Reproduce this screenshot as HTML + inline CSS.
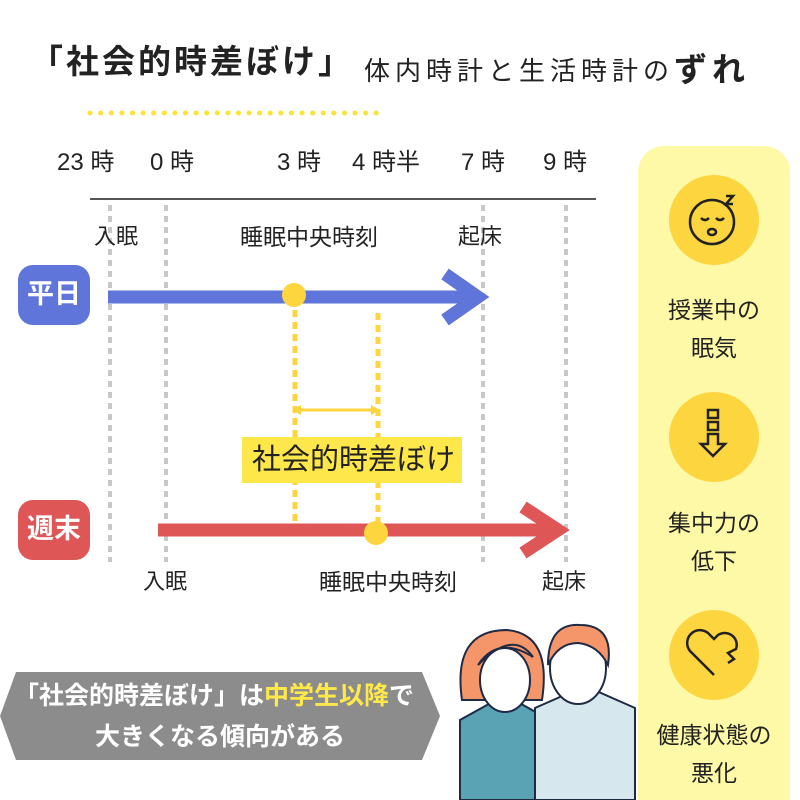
<!DOCTYPE html>
<html><head><meta charset="utf-8"><style>
body{margin:0;width:800px;height:800px;background:#fff;position:relative;overflow:hidden;font-family:"Liberation Sans","Noto Sans CJK JP",sans-serif;color:#222}
.t{position:absolute;white-space:nowrap;line-height:1}
</style></head><body>
<svg width="800" height="800" style="position:absolute;left:0;top:0">
<rect x="638" y="146" width="152" height="680" rx="26" fill="#fdf9a6"/>
<line x1="90" y1="113" x2="380" y2="113" stroke="#fde23a" stroke-width="5" stroke-dasharray="0.1 10.5" stroke-linecap="round"/>
<line x1="90" y1="199" x2="596" y2="199" stroke="#555" stroke-width="2"/>
<g stroke="#c8c8c8" stroke-width="4" stroke-dasharray="6 5">
<line x1="110" y1="205" x2="110" y2="562"/><line x1="166" y1="205" x2="166" y2="562"/>
<line x1="483" y1="205" x2="483" y2="562"/><line x1="566" y1="205" x2="566" y2="562"/></g>
<rect x="18" y="265" width="72" height="60" rx="15" fill="#5f75d9"/>
<rect x="18" y="500" width="72" height="60" rx="15" fill="#df5656"/>
<g stroke="#fdd53f" stroke-width="5" stroke-dasharray="7 5">
<line x1="295" y1="310" x2="295" y2="522"/><line x1="378" y1="313" x2="378" y2="530"/></g>
<line x1="298" y1="410" x2="374" y2="410" stroke="#fdd53f" stroke-width="3"/>
<path d="M292 410 l9 -5 v10z M380 410 l-9 -5 v10z" fill="#fdd53f"/>
<rect x="242" y="437" width="220" height="46" fill="#fde74a"/>
<line x1="108" y1="297" x2="474" y2="297" stroke="#5f75d9" stroke-width="13"/>
<polyline points="445,274 478,297 445,320" fill="none" stroke="#5f75d9" stroke-width="13"/>
<line x1="158" y1="530" x2="556" y2="530" stroke="#df5656" stroke-width="13"/>
<polyline points="523,507 558,530 523,553" fill="none" stroke="#df5656" stroke-width="13"/>
<circle cx="294" cy="295" r="12" fill="#fdd53f"/><circle cx="376" cy="533" r="12" fill="#fdd53f"/>
<circle cx="714" cy="220" r="45" fill="#fdd53f"/><circle cx="714" cy="437" r="45" fill="#fdd53f"/><circle cx="714" cy="655" r="45" fill="#fdd53f"/>
<g fill="none" stroke="#222" stroke-width="2.5">
<circle cx="712" cy="222" r="22"/><path d="M701 218q4 4 8 0M716 218q4 4 8 0"/><ellipse cx="712" cy="232" rx="4" ry="3"/><path d="M726 196h7l-7 8h7"/>
<path d="M708 410h10v8h-10zM708 422h10v8h-10zM708 434h10v10h7l-12 12l-12-12h7z"/>
<path d="M714 675l-24-24a12 12 0 0 1 20-16l4 4l4-4a12 12 0 0 1 18 14l-8 4l6 6l-6 4"/></g>
<polygon points="0,716 16,672 422,672 440,716 422,760 16,760" fill="#8c8c8c"/>
<g stroke="#1f2a44" stroke-width="2">
<path d="M460 800v-80l45-25 45 25v80z" fill="#5aa3b5"/>
<path d="M535 800v-92l50-22 50 22v92z" fill="#d6e8ee"/>
<path d="M462 700q-10-70 45-70q45 4 35 70z" fill="#f5956a"/>
<ellipse cx="505" cy="680" rx="25" ry="32" fill="#fff"/>
<path d="M478 665q20-30 55-8q-20-28-55 8z" fill="#f5956a"/>
<ellipse cx="578" cy="668" rx="28" ry="36" fill="#fff"/>
<path d="M548 665q0-42 32-40q34 0 28 40q-10-20-30-22q-20 0-30 22z" fill="#f5956a"/>
</g>
</svg>
<div class="t" style="left:30px;top:45px;font-size:33px;font-weight:bold;letter-spacing:3px">「社会的時差ぼけ」</div>
<div class="t" style="left:364px;top:52px;font-size:26px;letter-spacing:5px">体内時計と生活時計の<b style="font-size:33px;position:relative;top:1px">ずれ</b></div>
<div class="t" style="left:57px;top:151px;font-size:24px">23 時</div>
<div class="t" style="left:150px;top:151px;font-size:24px">0 時</div>
<div class="t" style="left:277px;top:151px;font-size:24px">3 時</div>
<div class="t" style="left:352px;top:151px;font-size:24px">4 時半</div>
<div class="t" style="left:461px;top:151px;font-size:24px">7 時</div>
<div class="t" style="left:543px;top:151px;font-size:24px">9 時</div>
<div class="t" style="left:94px;top:226px;font-size:22px">入眠</div>
<div class="t" style="left:240px;top:226px;font-size:23px">睡眠中央時刻</div>
<div class="t" style="left:458px;top:226px;font-size:22px">起床</div>
<div class="t" style="left:143px;top:571px;font-size:22px">入眠</div>
<div class="t" style="left:319px;top:571px;font-size:23px">睡眠中央時刻</div>
<div class="t" style="left:542px;top:571px;font-size:22px">起床</div>
<div class="t" style="left:27px;top:281px;font-size:27px;font-weight:bold;color:#fff">平日</div>
<div class="t" style="left:27px;top:516px;font-size:27px;font-weight:bold;color:#fff">週末</div>
<div class="t" style="left:252px;top:446px;font-size:29px">社会的時差ぼけ</div>
<div class="t" style="left:660px;top:291px;font-size:23px;line-height:38px;text-align:center;width:108px">授業中の<br>眠気</div>
<div class="t" style="left:660px;top:504px;font-size:23px;line-height:38px;text-align:center;width:108px">集中力の<br>低下</div>
<div class="t" style="left:648px;top:716px;font-size:23px;line-height:38px;text-align:center;width:132px">健康状態の<br>悪化</div>
<div class="t" style="left:14px;top:684px;font-size:25px;font-weight:bold;color:#fff">「社会的時差ぼけ」は<span style="color:#ffe94a">中学生以降</span>で</div>
<div class="t" style="left:95px;top:725px;font-size:25px;font-weight:bold;color:#fff">大きくなる傾向がある</div>
</body></html>
